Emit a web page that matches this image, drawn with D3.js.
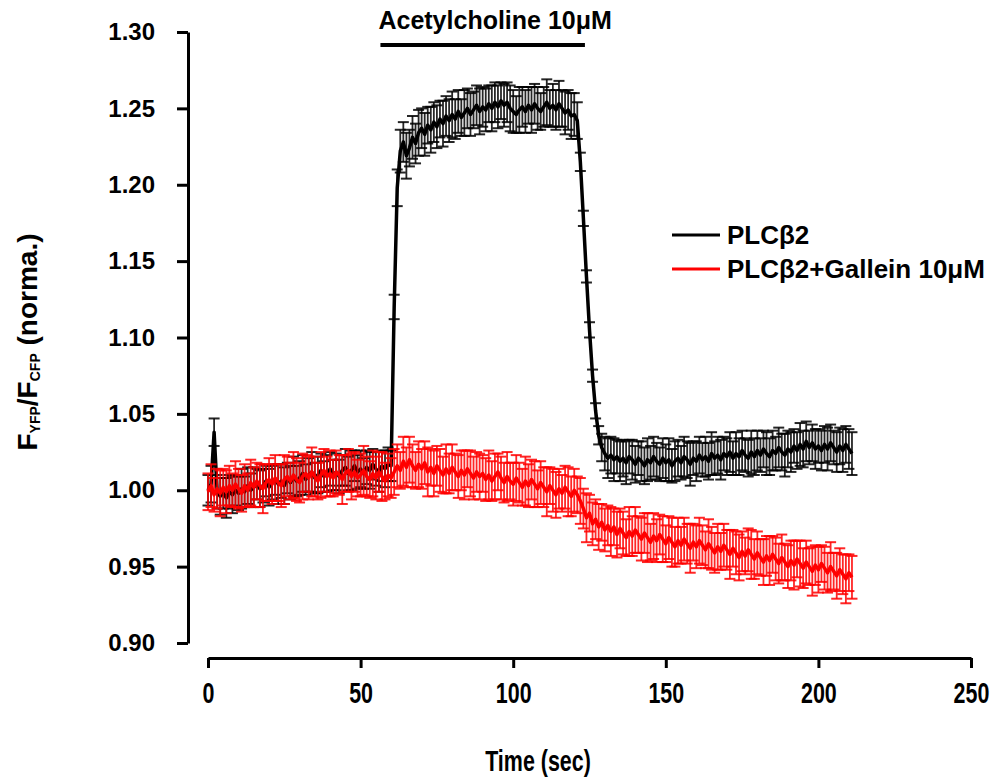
<!DOCTYPE html>
<html>
<head>
<meta charset="utf-8">
<script src="https://cdn.jsdelivr.net/npm/d3@7"></script>
<style>
  body { margin: 0; background: #fff; }
  text { font-family: "Liberation Sans", Arial, sans-serif; font-weight: bold; }
</style>
</head>
<body>
<div id="chart-area"></div>
<script>
// mean FRET ratio, one sample per second (t = 0..211 s)
var plcMean = [
  1.000, 1.004, 1.038, 0.999, 0.996, 0.998, 0.995, 0.999, 0.997, 1.000,
  0.998, 1.001, 0.999, 1.003, 1.000, 1.002, 1.004, 1.001, 1.003, 1.006,
  1.002, 1.005, 1.007, 1.004, 1.006, 1.003, 1.008, 1.005, 1.009, 1.006,
  1.008, 1.011, 1.007, 1.010, 1.012, 1.008, 1.010, 1.013, 1.009, 1.011,
  1.014, 1.010, 1.012, 1.009, 1.013, 1.015, 1.011, 1.013, 1.016, 1.012,
  1.014, 1.011, 1.015, 1.013, 1.017, 1.014, 1.012, 1.016, 1.014, 1.017,
  1.016, 1.120, 1.198, 1.222, 1.228, 1.219, 1.224, 1.231, 1.227, 1.234,
  1.237, 1.233, 1.239, 1.236, 1.241, 1.238, 1.243, 1.240, 1.245, 1.242,
  1.246, 1.243, 1.248, 1.244, 1.247, 1.250, 1.246, 1.249, 1.252, 1.248,
  1.251, 1.249, 1.253, 1.250, 1.254, 1.251, 1.255, 1.252, 1.254, 1.250,
  1.248, 1.246, 1.249, 1.251, 1.248, 1.252, 1.249, 1.253, 1.250, 1.248,
  1.251, 1.254, 1.250, 1.252, 1.249, 1.253, 1.250, 1.247, 1.249, 1.245,
  1.246, 1.242, 1.215, 1.178, 1.140, 1.105, 1.075, 1.052, 1.036, 1.028,
  1.024, 1.021, 1.023, 1.020, 1.022, 1.019, 1.021, 1.018, 1.022, 1.020,
  1.017, 1.021, 1.019, 1.016, 1.020, 1.018, 1.022, 1.019, 1.017, 1.021,
  1.018, 1.020, 1.016, 1.019, 1.021, 1.018, 1.022, 1.020, 1.017, 1.021,
  1.019, 1.023, 1.020, 1.022, 1.019, 1.024, 1.021, 1.023, 1.020, 1.024,
  1.022, 1.025, 1.021, 1.024, 1.022, 1.026, 1.023, 1.021, 1.025, 1.022,
  1.026, 1.023, 1.027, 1.024, 1.022, 1.026, 1.024, 1.028, 1.025, 1.023,
  1.027, 1.025, 1.029, 1.026, 1.030, 1.027, 1.032, 1.028, 1.031, 1.027,
  1.029, 1.026, 1.030, 1.027, 1.031, 1.028, 1.025, 1.029, 1.026, 1.030,
  1.027, 1.024
];
var plcErr = [
  0.010, 0.012, 0.009, 0.011, 0.012, 0.010, 0.013, 0.011, 0.012, 0.010,
  0.011, 0.013, 0.010, 0.012, 0.011, 0.013, 0.010, 0.012, 0.011, 0.010,
  0.012, 0.011, 0.010, 0.013, 0.011, 0.012, 0.010, 0.011, 0.013, 0.010,
  0.011, 0.012, 0.010, 0.011, 0.013, 0.010, 0.012, 0.011, 0.010, 0.012,
  0.011, 0.010, 0.012, 0.011, 0.010, 0.012, 0.011, 0.013, 0.010, 0.011,
  0.012, 0.010, 0.011, 0.012, 0.010, 0.011, 0.013, 0.010, 0.012, 0.011,
  0.010, 0.008, 0.012, 0.014, 0.013, 0.015, 0.012, 0.014, 0.013, 0.015,
  0.013, 0.014, 0.012, 0.015, 0.013, 0.014, 0.012, 0.015, 0.013, 0.014,
  0.015, 0.013, 0.014, 0.012, 0.015, 0.013, 0.014, 0.012, 0.013, 0.015,
  0.013, 0.014, 0.012, 0.015, 0.013, 0.014, 0.012, 0.014, 0.013, 0.015,
  0.014, 0.012, 0.015, 0.013, 0.014, 0.012, 0.015, 0.013, 0.014, 0.012,
  0.013, 0.015, 0.012, 0.014, 0.013, 0.015, 0.012, 0.014, 0.013, 0.015,
  0.014, 0.012, 0.006, 0.005, 0.004, 0.005, 0.004, 0.005, 0.006, 0.009,
  0.011, 0.013, 0.012, 0.014, 0.011, 0.013, 0.012, 0.014, 0.011, 0.013,
  0.012, 0.011, 0.013, 0.012, 0.014, 0.011, 0.013, 0.012, 0.011, 0.013,
  0.012, 0.014, 0.011, 0.013, 0.012, 0.011, 0.013, 0.012, 0.014, 0.011,
  0.013, 0.012, 0.011, 0.013, 0.012, 0.014, 0.011, 0.012, 0.013, 0.011,
  0.012, 0.013, 0.011, 0.014, 0.012, 0.013, 0.011, 0.012, 0.014, 0.012,
  0.013, 0.011, 0.012, 0.014, 0.012, 0.013, 0.011, 0.013, 0.012, 0.014,
  0.012, 0.013, 0.011, 0.012, 0.014, 0.012, 0.013, 0.011, 0.012, 0.013,
  0.011, 0.013, 0.012, 0.014, 0.012, 0.011, 0.013, 0.012, 0.014, 0.012,
  0.013, 0.014
];
var galleinMean = [
  0.999, 1.003, 0.997, 1.001, 0.998, 1.002, 0.999, 1.003, 1.000, 1.004,
  1.001, 0.998, 1.003, 1.000, 1.005, 1.002, 1.006, 1.003, 1.001, 1.005,
  1.007, 1.004, 1.008, 1.005, 1.003, 1.007, 1.009, 1.006, 1.010, 1.007,
  1.005, 1.009, 1.011, 1.008, 1.012, 1.009, 1.006, 1.010, 1.013, 1.009,
  1.011, 1.008, 1.012, 1.010, 1.007, 1.011, 1.013, 1.009, 1.012, 1.008,
  1.010, 1.013, 1.009, 1.007, 1.011, 1.008, 1.012, 1.009, 1.006, 1.010,
  1.008, 1.012, 1.016, 1.013, 1.019, 1.015, 1.020, 1.016, 1.013, 1.017,
  1.014, 1.018, 1.012, 1.015, 1.011, 1.016, 1.013, 1.010, 1.014, 1.011,
  1.015, 1.012, 1.009, 1.013, 1.010, 1.014, 1.011, 1.008, 1.012, 1.009,
  1.011, 1.007, 1.010, 1.006, 1.009, 1.012, 1.008, 1.005, 1.009, 1.006,
  1.004, 1.008, 1.005, 1.002, 1.006, 1.003, 1.007, 1.004, 1.001, 1.005,
  1.002, 0.999, 1.003, 1.000, 0.997, 1.001, 0.998, 1.002, 0.999, 0.996,
  1.000, 0.997, 0.993, 0.988, 0.982, 0.985, 0.978, 0.981, 0.976, 0.979,
  0.974, 0.977, 0.973, 0.976, 0.971, 0.975, 0.972, 0.969, 0.973, 0.970,
  0.974, 0.971, 0.968, 0.972, 0.969, 0.966, 0.970, 0.967, 0.971, 0.968,
  0.965, 0.969, 0.966, 0.963, 0.967, 0.964, 0.968, 0.965, 0.962, 0.966,
  0.963, 0.967, 0.964, 0.961, 0.965, 0.962, 0.959, 0.963, 0.960, 0.964,
  0.961, 0.958, 0.962, 0.959, 0.956, 0.960, 0.957, 0.961, 0.958, 0.955,
  0.959, 0.956, 0.953, 0.957, 0.954, 0.958, 0.955, 0.952, 0.956, 0.953,
  0.950, 0.954, 0.951, 0.955, 0.952, 0.949, 0.953, 0.950, 0.947, 0.951,
  0.948, 0.952, 0.949, 0.946, 0.950, 0.947, 0.944, 0.948, 0.945, 0.942,
  0.946, 0.943
];
var galleinErr = [
  0.012, 0.014, 0.011, 0.013, 0.015, 0.012, 0.014, 0.013, 0.011, 0.015,
  0.013, 0.012, 0.014, 0.011, 0.015, 0.013, 0.012, 0.014, 0.016, 0.012,
  0.014, 0.013, 0.015, 0.012, 0.014, 0.016, 0.013, 0.012, 0.015, 0.014,
  0.013, 0.015, 0.012, 0.014, 0.016, 0.013, 0.012, 0.015, 0.014, 0.013,
  0.015, 0.012, 0.014, 0.013, 0.016, 0.012, 0.014, 0.015, 0.013, 0.012,
  0.014, 0.016, 0.013, 0.012, 0.015, 0.014, 0.013, 0.016, 0.012, 0.014,
  0.013, 0.015, 0.014, 0.012, 0.016, 0.013, 0.015, 0.014, 0.012, 0.015,
  0.013, 0.014, 0.016, 0.012, 0.015, 0.013, 0.014, 0.012, 0.016, 0.013,
  0.015, 0.012, 0.014, 0.013, 0.016, 0.012, 0.015, 0.014, 0.013, 0.015,
  0.012, 0.014, 0.016, 0.013, 0.015, 0.012, 0.014, 0.013, 0.016, 0.012,
  0.014, 0.015, 0.013, 0.012, 0.016, 0.014, 0.013, 0.015, 0.012, 0.014,
  0.013, 0.016, 0.012, 0.014, 0.015, 0.013, 0.012, 0.014, 0.016, 0.013,
  0.014, 0.012, 0.015, 0.013, 0.016, 0.012, 0.014, 0.013, 0.015, 0.012,
  0.014, 0.013, 0.016, 0.012, 0.015, 0.013, 0.014, 0.012, 0.016, 0.013,
  0.015, 0.012, 0.014, 0.013, 0.016, 0.012, 0.015, 0.014, 0.013, 0.015,
  0.012, 0.014, 0.016, 0.013, 0.015, 0.012, 0.014, 0.013, 0.016, 0.012,
  0.014, 0.015, 0.013, 0.012, 0.016, 0.014, 0.013, 0.015, 0.012, 0.014,
  0.013, 0.016, 0.012, 0.014, 0.015, 0.013, 0.012, 0.014, 0.016, 0.013,
  0.014, 0.012, 0.015, 0.013, 0.016, 0.012, 0.014, 0.013, 0.015, 0.012,
  0.014, 0.013, 0.016, 0.012, 0.015, 0.013, 0.014, 0.012, 0.016, 0.013,
  0.015, 0.012, 0.014, 0.013, 0.016, 0.012, 0.015, 0.014, 0.013, 0.016,
  0.012, 0.014
];

var sampleStep = 1; // seconds between samples
var xTicks = [0, 50, 100, 150, 200, 250];
var yTicks = [0.90, 0.95, 1.00, 1.05, 1.10, 1.15, 1.20, 1.25, 1.30];
var drugWindow = [56.5, 123.5];
var drugLabel = 'Acetylcholine 10\u03bcM';
var seriesNames = ['PLC\u03b22', 'PLC\u03b22+Gallein 10\u03bcM'];
var seriesColors = ['#000000', '#ff0000'];

var width = 997;
var height = 778;

var svg = d3.select('#chart-area')
  .append('svg')
    .attr('width', width)
    .attr('height', height);

var x = d3.scaleLinear().domain([0, 250]).range([208, 971]);
var y = d3.scaleLinear().domain([0.90, 1.30]).range([643, 32]);

// y axis
var yAxis = svg.append('g')
  .attr('transform', 'translate(188,0)')
  .call(d3.axisLeft(y)
    .tickValues(yTicks)
    .tickFormat(d3.format('.2f'))
    .tickSize(11)
    .tickSizeOuter(0)
    .tickPadding(22));
yAxis.select('.domain').attr('stroke-width', 3);
yAxis.selectAll('.tick line').attr('stroke-width', 3);
yAxis.selectAll('text').attr('font-size', '24px').attr('fill', '#000');

// x axis (labels in a condensed face, squeezed sideways)
var xAxis = svg.append('g')
  .attr('transform', 'translate(0,658)')
  .call(d3.axisBottom(x)
    .tickValues(xTicks)
    .tickSize(10)
    .tickSizeOuter(0)
    .tickPadding(14));
xAxis.select('.domain').attr('stroke-width', 3);
xAxis.selectAll('.tick line').attr('stroke-width', 3);
xAxis.selectAll('text')
  .attr('font-size', '29px')
  .attr('fill', '#000')
  .attr('transform', 'scale(0.74,1)');

// axis titles
svg.append('text')
  .attr('transform', 'translate(538,771) scale(0.74,1)')
  .attr('font-size', '29px')
  .attr('text-anchor', 'middle')
  .text('Time (sec)');

var yTitle = svg.append('text')
  .attr('transform', 'translate(37,342) rotate(-90)')
  .attr('font-size', '28px')
  .attr('text-anchor', 'middle');
yTitle.append('tspan').text('F');
yTitle.append('tspan').attr('font-size', '14px').attr('dy', 3).text('YFP');
yTitle.append('tspan').attr('dy', -3).text('/F');
yTitle.append('tspan').attr('font-size', '14px').attr('dy', 3).text('CFP');
yTitle.append('tspan').attr('dy', -3).text(' (norma.)');

// drug application bar
svg.append('line')
  .attr('x1', x(drugWindow[0]))
  .attr('x2', x(drugWindow[1]))
  .attr('y1', 45)
  .attr('y2', 45)
  .attr('stroke', '#000')
  .attr('stroke-width', 4);
svg.append('text')
  .attr('x', x(drugWindow[0]) - 2)
  .attr('y', 29)
  .attr('font-size', '25px')
  .text(drugLabel);

// series with error bars
var series = [
  { name: seriesNames[0], color: seriesColors[0], mean: plcMean, err: plcErr },
  { name: seriesNames[1], color: seriesColors[1], mean: galleinMean, err: galleinErr }
];

var line = d3.line()
  .x((d) => x(d.t))
  .y((d) => y(d.v));

var capHalf = 5.5;

series.forEach(function (s) {
  var pts = s.mean.map((v, i) => ({ t: i * sampleStep, v: v, e: s.err[i] }));
  var g = svg.append('g');
  var bars = g.selectAll('g.err')
    .data(pts)
    .enter()
    .append('g')
      .attr('class', 'err')
      .attr('stroke', s.color)
      .attr('stroke-opacity', 0.85);
  bars.append('line')
    .attr('x1', (d) => x(d.t))
    .attr('x2', (d) => x(d.t))
    .attr('y1', (d) => y(d.v + d.e))
    .attr('y2', (d) => y(d.v - d.e))
    .attr('stroke-width', 1.8);
  bars.append('line')
    .attr('x1', (d) => x(d.t) - capHalf)
    .attr('x2', (d) => x(d.t) + capHalf)
    .attr('y1', (d) => y(d.v + d.e))
    .attr('y2', (d) => y(d.v + d.e))
    .attr('stroke-width', 2);
  bars.append('line')
    .attr('x1', (d) => x(d.t) - capHalf)
    .attr('x2', (d) => x(d.t) + capHalf)
    .attr('y1', (d) => y(d.v - d.e))
    .attr('y2', (d) => y(d.v - d.e))
    .attr('stroke-width', 2);
  g.append('path')
    .datum(pts)
    .attr('fill', 'none')
    .attr('stroke', s.color)
    .attr('stroke-width', 3.5)
    .attr('stroke-linejoin', 'round')
    .attr('d', line);
});

// legend
var legend = svg.append('g');
series.forEach(function (s, i) {
  var ly = 235 + i * 34;
  legend.append('line')
    .attr('x1', 672)
    .attr('x2', 720)
    .attr('y1', ly)
    .attr('y2', ly)
    .attr('stroke', s.color)
    .attr('stroke-width', 3);
  legend.append('text')
    .attr('x', 727)
    .attr('y', ly + 9)
    .attr('font-size', '26px')
    .text(s.name);
});
</script>
</body>
</html>
